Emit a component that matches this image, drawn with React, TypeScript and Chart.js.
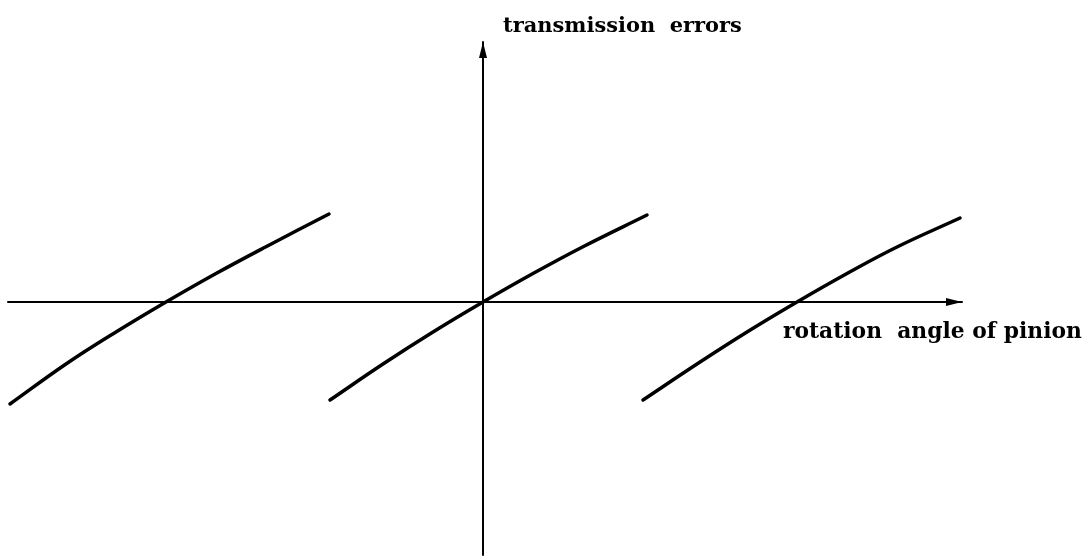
import React, { useEffect, useRef } from "react";
import { Chart, registerables } from "chart.js";

Chart.register(...registerables);

// Transmission error curves, one per tooth engagement (x: rotation angle, y: error)
const tooth1X = [-4.73, -4.17, -3.67, -3.17, -2.67, -2.17, -1.54];
const tooth1Y = [-1.02, -0.62, -0.3, 0, 0.285, 0.553, 0.88];
const tooth2X = [-1.53, -1.0, -0.5, 0, 0.5, 1.0, 1.64];
const tooth2Y = [-0.98, -0.62, -0.3, 0, 0.285, 0.553, 0.87];
const tooth3X = [1.6, 2.14, 2.64, 3.14, 3.64, 4.14, 4.77];
const tooth3Y = [-0.98, -0.62, -0.3, 0, 0.285, 0.55, 0.84];

// Axis extents
const xAxisX = [-4.75, 4.79];
const yAxisY = [-2.53, 2.6];

const xAxisTitle = "rotation  angle of pinion";
const yAxisTitle = "transmission  errors";

const pts = (xs: number[], ys: number[]) => xs.map((x, i) => ({ x, y: ys[i] }));

const arrowPlugin = {
  id: "arrowsAndTitles",
  afterDatasetsDraw(chart: any) {
    const ctx = chart.ctx;
    const xs = chart.scales.x;
    const ys = chart.scales.y;
    const ox = xs.getPixelForValue(0);
    const oy = ys.getPixelForValue(0);
    ctx.save();
    ctx.fillStyle = "#000";
    // x arrow
    const xt = xs.getPixelForValue(xAxisX[1]);
    ctx.beginPath();
    ctx.moveTo(xt, oy);
    ctx.lineTo(xt - 16, oy - 4);
    ctx.lineTo(xt - 16, oy + 4);
    ctx.closePath();
    ctx.fill();
    // y arrow
    const yt = ys.getPixelForValue(yAxisY[1]);
    ctx.beginPath();
    ctx.moveTo(ox, yt);
    ctx.lineTo(ox - 4, yt + 16);
    ctx.lineTo(ox + 4, yt + 16);
    ctx.closePath();
    ctx.fill();
    // titles
    ctx.textBaseline = "alphabetic";
    ctx.textAlign = "left";
    const fit = (text: string, w: number, base: number) => {
      ctx.font = `bold ${base}px "DejaVu Serif", serif`;
      const m = ctx.measureText(text).width;
      const size = (base * w) / m;
      ctx.font = `bold ${size}px "DejaVu Serif", serif`;
    };
    fit(yAxisTitle, 239, 18);
    ctx.fillText(yAxisTitle, ox + 20, 32);
    fit(xAxisTitle, 299, 18);
    ctx.fillText(xAxisTitle, 783, oy + 36);
    ctx.restore();
  },
};

export default function App() {
  const ref = useRef<HTMLCanvasElement>(null);
  useEffect(() => {
    if (!ref.current) return;
    const line = (data: any[], w: number) => ({
      data,
      borderColor: "#000",
      borderWidth: w,
      pointRadius: 0,
      fill: false,
      tension: 0.4,
      borderCapStyle: "round" as const,
    });
    const chart = new Chart(ref.current, {
      type: "line",
      data: {
        datasets: [
          line(xAxisX.map((x) => ({ x, y: 0 })), 2),
          line(yAxisY.map((y) => ({ x: 0, y })), 2),
          line(pts(tooth1X, tooth1Y), 3.5),
          line(pts(tooth2X, tooth2Y), 3.5),
          line(pts(tooth3X, tooth3Y), 3.5),
        ],
      },
      options: {
        animation: false,
        responsive: true,
        maintainAspectRatio: false,
        layout: { padding: 0 },
        plugins: { legend: { display: false }, tooltip: { enabled: false } },
        scales: {
          x: { type: "linear", display: false, min: -4.83, max: 6.07 },
          y: { type: "linear", display: false, min: -2.54, max: 3.02 },
        },
      },
      plugins: [arrowPlugin],
    });
    return () => chart.destroy();
  }, []);
  return (
    <div style={{ position: "absolute", left: 0, top: 0, width: 1090, height: 556, background: "#fff" }}>
      <canvas ref={ref} />
    </div>
  );
}
